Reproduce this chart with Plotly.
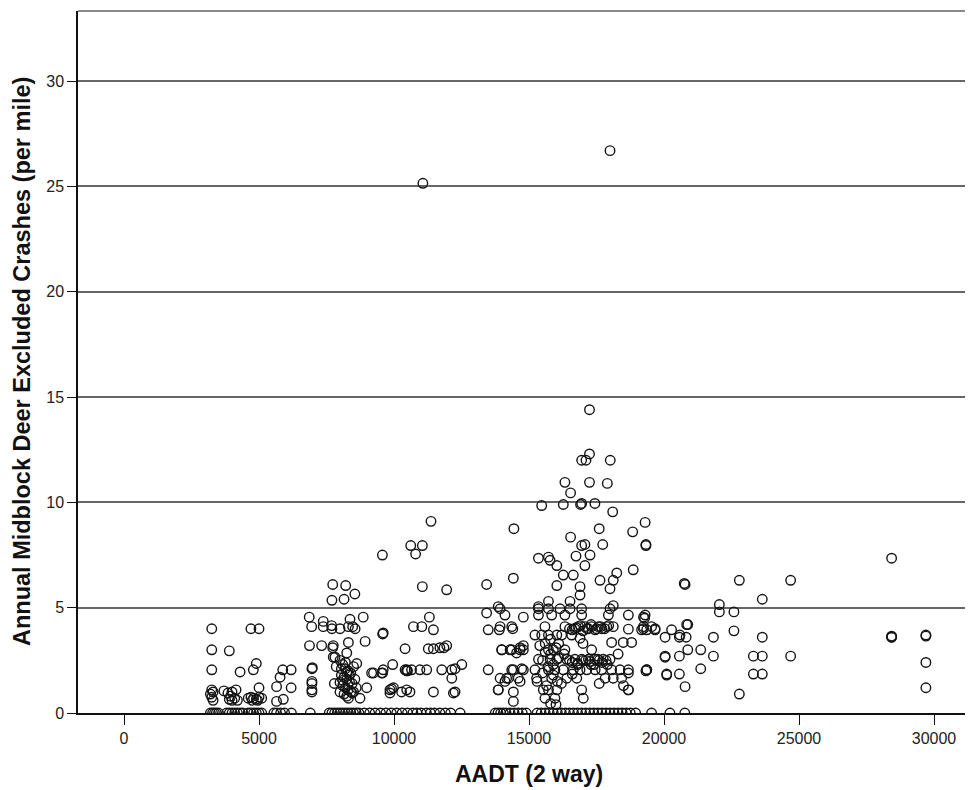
import plotly.graph_objects as go

# ---- data (AADT, annual crashes per mile) ----
aadt_zero = [3200, 3280, 3350, 3420, 3500, 3800, 3900, 4000, 4100, 4200, 4300, 4400,
             4600, 4700, 4800, 4900, 5000, 5100, 5550, 5650, 5800, 5950, 6200, 6900,
             7600, 7700, 7800, 7900, 8000, 8100, 8200, 8300, 8400, 8500, 8600, 8700,
             8900, 9100, 9300, 9500, 9700, 9900, 10100, 10300, 10500, 10700, 10850,
             11000, 11200, 11350, 11500, 11700, 11900, 12100, 12450, 13750, 13850,
             13950, 14050, 14150, 14300, 14450, 14600, 14750, 14900, 15300, 15450,
             15600, 15750, 15900, 16050, 16200, 16350, 16500, 16650, 16800, 16950,
             17100, 17250, 17400, 17550, 17700, 17850, 18000, 18150, 18300, 18450,
             18600, 18750, 18950, 19540, 20220, 20770]

aadt_low = [3250, 3250, 3250, 3250, 3300, 3200, 3250, 3300, 3900, 3700, 3850, 4000,
            4150, 3900, 4000, 4100, 4200, 3950, 4300, 4700, 5000, 4900, 4790, 5000,
            4600, 4700, 4800, 4900, 5000, 5100, 4750, 4950, 5650, 5780, 5880, 6190,
            6190, 5650, 5900]
rate_low = [4.0, 3.0, 2.05, 1.1, 1.0, 0.9, 0.75, 0.6, 2.95, 1.05, 0.95, 1.0,
            1.1, 0.65, 0.6, 0.7, 0.6, 0.8, 1.95, 4.0, 4.0, 2.35, 2.05, 1.2,
            0.7, 0.75, 0.7, 0.65, 0.75, 0.7, 0.6, 0.6, 1.25, 1.7, 2.05, 2.05,
            1.2, 0.55, 0.65]

aadt_mid = [6860, 6950, 7380, 6870, 7320, 7730, 7750, 7815, 6975, 6960, 6960, 6960,
            6960, 6960, 7730, 8210, 7700, 8150, 8550, 7700, 8000, 8370, 8470, 8310,
            8860, 8930, 9580, 7380, 7690, 8310, 8560, 7750, 8250, 8620, 7860, 7790,
            8000, 8100, 8200, 8300, 8400, 8050, 8150, 8250, 8350, 8450, 8100, 8200,
            8300, 8400, 8000, 8150, 8250, 8350, 8500, 8550, 8600, 8200, 8100, 8300,
            8450, 8000, 8050, 8250, 8500, 8310, 8740, 8990, 9240, 9580, 9170, 9540,
            9950, 10470, 10470, 9850, 9850, 9980, 10470, 9570, 10620, 11050, 10800,
            11370, 11050, 11950]
rate_mid = [4.55, 4.1, 4.35, 3.2, 3.2, 3.1, 3.2, 2.65, 2.15, 2.1, 1.5, 1.4,
            1.0, 1.1, 6.1, 6.05, 5.35, 5.4, 5.65, 4.0, 4.0, 4.45, 4.1, 3.35,
            4.55, 3.4, 3.75, 4.1, 4.15, 4.1, 4.0, 2.65, 2.85, 2.35, 2.2, 1.4,
            2.5, 2.3, 2.1, 2.0, 1.9, 1.8, 1.7, 1.6, 1.5, 1.4, 1.3, 1.2,
            1.1, 1.0, 1.0, 0.9, 0.8, 1.8, 2.2, 1.6, 1.2, 2.4, 1.55, 1.35,
            0.95, 1.45, 2.1, 1.95, 1.0, 0.7, 0.7, 1.2, 1.9, 1.9, 1.9, 1.9,
            2.3, 2.05, 2.0, 0.95, 1.1, 1.2, 1.1, 7.5, 7.95, 7.95, 7.55,
            9.1, 6.0, 5.85]

aadt_ten = [9600, 10720, 11030, 11460, 11310, 10410, 11270, 11460, 11700, 11950,
            11850, 9600, 10410, 10650, 10960, 11210, 11770, 12140, 12260, 12510,
            12140, 9910, 10280, 10590, 11460, 12260, 12200, 10500]
rate_ten = [3.8, 4.1, 4.1, 3.95, 4.55, 3.05, 3.05, 3.05, 3.1, 3.2,
            3.1, 2.05, 2.05, 2.05, 2.05, 2.05, 2.05, 2.05, 2.1, 2.3,
            1.65, 1.15, 1.0, 1.0, 1.0, 1.0, 0.95, 2.0]

aadt_fourteen = [13430, 14420, 13860, 13430, 14110, 14790, 13490, 13900, 14400,
                 13990, 14360, 14670, 14790, 14540, 13490, 14420, 14730, 13860,
                 14110, 14240, 14420, 14670, 14420, 14440]
rate_fourteen = [6.1, 6.4, 5.05, 4.75, 4.65, 4.55, 3.95, 3.95, 4.0,
                 3.0, 3.0, 3.1, 3.2, 2.85, 2.05, 2.05, 2.1, 1.1,
                 1.5, 1.65, 1.0, 1.5, 0.55, 8.75]

aadt_peak = [17240, 17240, 16950, 17110, 18010, 16330, 17240, 17900, 16540, 15470,
             16270, 16910, 16950, 17440, 18100, 19300, 18840, 17600, 16540, 16950,
             17070, 17730, 19330, 19330, 16740, 17260, 15350, 15720, 15780, 18250,
             18860, 17630, 18120, 18000, 16030, 16270, 16640, 16030, 16890, 16890,
             17070, 15720, 16520, 15350, 20750]
rate_peak = [14.4, 12.3, 12.0, 12.0, 12.0, 10.95, 10.95, 10.9, 10.45, 9.85,
             9.9, 9.9, 9.95, 9.95, 9.55, 9.05, 8.6, 8.75, 8.35, 7.95,
             8.0, 8.0, 8.0, 7.95, 7.45, 7.5, 7.35, 7.4, 7.25, 6.65,
             6.8, 6.3, 6.3, 5.9, 7.0, 6.55, 6.55, 6.05, 6.0, 5.6,
             7.0, 5.3, 5.3, 5.05, 6.15]

aadt_core = [13930, 15350, 15720, 16150, 16520, 16950, 18000, 18120,
             15350, 15840, 16330, 16950, 17940, 18680, 19300,
             13930, 14360, 15590, 16330, 16830, 17070, 17320, 17570, 17880, 18120,
             18680, 19240, 19540, 16500, 16700, 17200, 17500, 17700,
             15220, 15470, 15720, 16030, 16210, 16580, 16890,
             18060, 18490, 18800,
             13990, 14300, 14670, 14790, 15720, 15900, 16330, 17320,
             15350, 15780, 16030, 16400, 16700, 16950, 17200, 17450, 17750, 18000,
             16500, 17100, 17600,
             14360, 14790, 15220, 15720, 15960, 16270, 16640, 16890, 17140, 17450,
             17690, 18060, 18370, 18680, 19360,
             13930, 14170, 14600, 15280, 15840, 16400, 16770, 17820, 18120, 18430,
             13860, 15530, 15720, 16030, 16950, 18680,
             15590, 15960, 17010,
             16100, 16300, 15900, 16600, 17000, 17300, 16200, 15500, 17600, 18300,
             15600, 16800, 17900, 18500, 15800, 15800, 16000]
rate_core = [4.95, 4.95, 4.95, 4.95, 4.95, 4.95, 4.95, 5.1,
             4.65, 4.65, 4.65, 4.65, 4.65, 4.65, 4.65,
             4.1, 4.1, 4.1, 4.1, 4.1, 4.1, 4.1, 4.1, 4.1, 4.1,
             3.98, 4.1, 4.1, 4.0, 4.0, 4.0, 4.0, 4.0,
             3.7, 3.7, 3.7, 3.7, 3.7, 3.7, 3.55,
             3.35, 3.35, 3.35,
             3.0, 3.0, 3.0, 3.0, 3.0, 3.0, 3.0, 3.0,
             2.55, 2.55, 2.55, 2.55, 2.55, 2.55, 2.55, 2.55, 2.55, 2.55,
             2.5, 2.5, 2.5,
             2.05, 2.05, 2.05, 2.05, 2.05, 2.05, 2.05, 2.05, 2.05, 2.05,
             2.05, 2.05, 2.05, 2.05, 2.05,
             1.65, 1.65, 1.65, 1.65, 1.65, 1.65, 1.65, 1.65, 1.65, 1.65,
             1.1, 1.1, 1.1, 1.1, 1.1, 1.1,
             0.7, 0.7, 0.7,
             3.3, 2.8, 2.3, 1.85, 3.3, 2.3, 1.4, 1.9, 1.4, 2.8,
             3.3, 2.3, 2.3, 1.3, 2.8, 0.45, 0.4]

# dark overlapping bands in the 15000-18000 cluster
aadt_band = [16600, 16750, 16900, 17000, 17150, 17300, 17450, 17650, 17800, 17950,
             16600, 16800, 17000, 17250, 17400, 17550, 17700, 17850,
             15400, 15600, 15800, 16000, 15500, 15700, 15900, 16100, 15300, 15650,
             16050]
rate_band = [3.95, 4.05, 4.15, 3.9, 4.0, 4.2, 3.95, 4.1, 4.0, 4.15,
             2.4, 2.35, 2.5, 2.45, 2.3, 2.55, 2.4, 2.5,
             3.2, 2.9, 3.5, 3.1, 2.5, 2.2, 1.8, 2.6, 1.5, 1.3,
             1.5]

aadt_high = [20780, 19280, 20880, 19170, 19360, 19670, 20280, 20040, 20570, 20820,
             21830, 22590, 23640, 21360, 20880, 20040, 20570, 20040, 21830, 23310,
             23640, 24690, 19330, 20100, 20570, 20100, 21360, 23310, 23640, 20780,
             22790, 19240, 19240, 19670, 19360, 18680, 18680, 20840, 20590,
             22050, 22050, 22590, 23640, 22790, 24690, 28430, 28430, 28430, 28430,
             29700, 29700, 29700, 29700]
rate_high = [6.1, 4.5, 4.2, 3.95, 3.95, 3.95, 3.95, 3.6, 3.6, 3.6,
             3.6, 3.9, 3.6, 3.0, 3.0, 2.7, 2.7, 2.65, 2.7, 2.7,
             2.7, 2.7, 2.0, 1.85, 1.85, 1.8, 2.1, 1.85, 1.85, 1.25,
             0.9, 4.55, 4.0, 4.0, 2.05, 1.9, 1.1, 4.2, 3.7,
             5.15, 4.8, 4.8, 5.4, 6.3, 6.3, 7.35, 3.6, 3.6, 3.65,
             3.65, 3.7, 2.4, 1.2]

aadt_outlier = [11070, 18000]
rate_outlier = [25.15, 26.7]

x_ticks = [0, 5000, 10000, 15000, 20000, 25000, 30000]
y_ticks = [0, 5, 10, 15, 20, 25, 30]

x_title = "AADT (2 way)"
y_title = "Annual Midblock Deer Excluded Crashes (per mile)"

# ---- assemble ----
aadt = (aadt_zero + aadt_low + aadt_mid + aadt_ten + aadt_fourteen + aadt_peak
        + aadt_core + aadt_band + aadt_high + aadt_outlier)
rate = ([0.0] * len(aadt_zero) + rate_low + rate_mid + rate_ten + rate_fourteen
        + rate_peak + rate_core + rate_band + rate_high + rate_outlier)

FONT = "Liberation Sans, Arial, sans-serif"

fig = go.Figure()
fig.add_trace(go.Scatter(
    x=aadt, y=rate, mode="markers",
    marker=dict(symbol="circle-open", size=9.5, color="#141414",
                line=dict(width=1.4, color="#141414")),
    hoverinfo="x+y", showlegend=False, cliponaxis=True,
))

# the page body adds an 8px margin, so the figure is offset to compensate
fig.update_layout(
    width=973, height=782,
    margin=dict(l=70, r=8, t=3, b=77, autoexpand=False),
    paper_bgcolor="white", plot_bgcolor="white",
    font=dict(family=FONT, color="#222222"),
    xaxis=dict(
        range=[-1704, 31444], tickmode="array", tickvals=x_ticks,
        ticktext=[str(v) for v in x_ticks],
        ticks="outside", ticklen=10, tickwidth=1.2, tickcolor="#111111",
        showline=True, linecolor="#111111", linewidth=1.5,
        showgrid=False, zeroline=False, automargin=False,
        tickfont=dict(family=FONT, size=16, color="#222222"),
    ),
    yaxis=dict(
        range=[0, 33.33], tickmode="array", tickvals=y_ticks,
        ticktext=[str(v) for v in y_ticks],
        ticks="outside", ticklen=9, tickwidth=1.2, tickcolor="#111111",
        showline=True, linecolor="#111111", linewidth=1.5,
        showgrid=True, gridcolor="#666666", gridwidth=1.6, zeroline=False,
        automargin=False,
        tickfont=dict(family=FONT, size=16, color="#222222"),
    ),
    shapes=[dict(type="line", xref="paper", yref="paper", x0=0, x1=1, y0=1, y1=1,
                 line=dict(color="#8a8a8a", width=2))],
    annotations=[
        dict(text="<b>" + x_title + "</b>", xref="paper", yref="paper",
             x=0.504, y=-0.087, xanchor="center", yanchor="middle",
             showarrow=False, font=dict(family=FONT, size=23, color="#111111")),
        dict(text="<b>" + y_title + "</b>", xref="paper", yref="paper",
             x=-0.0631, y=0.5007, xanchor="center", yanchor="middle",
             textangle=-90, showarrow=False,
             font=dict(family=FONT, size=23.5, color="#111111")),
    ],
)

fig.write_html("out.html")
